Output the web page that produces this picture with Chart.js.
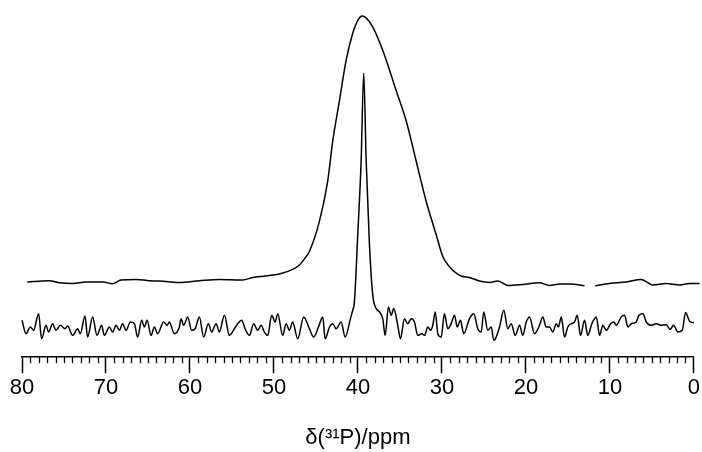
<!DOCTYPE html>
<html>
<head>
    <meta charset="utf-8">
    <title>31P NMR</title>
    <script src="https://cdn.jsdelivr.net/npm/chart.js"></script>
    <style>
        html, body { margin: 0; padding: 0; background: #fff; }
        #wrap { width: 702px; height: 452px; }
    </style>
</head>
<body>
    <div id="wrap"><canvas id="nmr"></canvas></div>

    <script>
        // upper trace (broad line), chemical shift in ppm and intensity in a.u.
        const topPpm = [79.37, 76.75, 75.56, 73.97, 72.38, 70.40, 69.21, 68.21, 66.42, 64.84, 62.85, 61.26,
            58.88, 56.50, 53.72, 52.53, 50.94, 49.35, 47.77, 46.97, 46.17, 45.78, 44.59, 43.60, 43.0, 42.2,
            41.41, 40.62, 40.0, 39.5, 39.0, 38.24, 37.05, 35.45, 34.26, 33.07, 31.88, 30.69, 29.9, 29.10,
            27.71, 26.72, 25.53, 24.34, 23.35, 22.16, 20.37, 18.38, 17.19, 16.0, 14.81, 13.02, 12.4,
            11.75, 10.05, 8.05, 6.27, 4.88, 3.29, 1.70, 0.51, -0.68];
        const topInt = [74.7, 76, 74, 73.3, 74.7, 74.7, 73, 76.7, 77.3, 76, 75.3, 74.3,
            76, 77.3, 76.7, 79.3, 80.7, 82.7, 87.3, 91.7, 100, 105, 135, 175, 215, 255,
            295, 322, 335, 339, 337, 328.3, 305, 265, 235, 195, 155, 122, 100, 90,
            80.7, 79.3, 75.7, 74.3, 75.7, 71.3, 72.3, 74, 71.3, 72.7, 72.7, 71, null,
            71, 73.3, 74.7, 77.3, 71.7, 73.3, 71.7, 73.3, 73.3];

        // lower trace (narrow line with noise)
        const lowPpm = [80.0, 79.52, 79.01, 78.62, 78.02, 77.67, 77.14, 76.83, 76.36, 75.95, 75.44, 74.88,
            74.57, 73.97, 73.38, 73.06, 72.5, 72.19, 71.59, 71.07, 70.52, 70.2, 69.6, 69.21, 68.8, 68.41,
            68.02, 67.61, 67.1, 66.62, 66.23, 65.75, 65.43, 65.11, 64.63, 64.24, 63.85, 63.13, 62.73, 62.45,
            61.86, 61.26, 61.06, 60.75, 60.27, 59.8, 59.39, 58.88, 58.37, 57.81, 57.41, 56.89, 56.5, 55.9,
            55.31, 54.71, 54.32, 53.84, 53.44, 52.92, 52.41, 51.94, 51.53, 51.14, 50.74, 50.27, 49.86, 49.55,
            48.96, 48.55, 48.16, 47.77, 47.17, 46.46, 45.78, 45.27, 44.7, 44.19, 43.91, 43.39, 43.0, 42.6,
            42.0, 41.52, 40.89, 40.62, 40.42, 40.02, 39.62, 39.31, 39.02, 38.63, 38.24, 37.83, 37.44, 37.05,
            36.76, 36.37, 36.04, 35.73, 35.26, 34.94, 34.46, 34.07, 33.66, 33.27, 32.88, 32.4, 32.08, 31.68,
            31.36, 31.09, 30.8, 30.49, 30.09, 29.7, 29.3, 28.9, 28.5, 28.18, 27.79, 27.4, 26.72, 26.21,
            25.73, 25.32, 25.02, 24.54, 24.13, 23.82, 23.54, 23.14, 22.63, 22.16, 21.75, 21.27, 20.76, 20.37,
            19.96, 19.57, 18.97, 18.38, 17.99, 17.58, 17.19, 16.79, 16.39, 16.12, 15.79, 15.4, 15.01, 14.6,
            14.21, 13.89, 13.5, 13.02, 12.63, 12.15, 11.62, 11.23, 10.84, 10.43, 9.92, 9.53, 9.24, 8.65,
            8.25, 7.86, 7.46, 6.86, 6.55, 6.07, 5.67, 5.07, 4.48, 3.88, 3.29, 2.81, 2.42, 1.9,
            1.38, 0.99, 0.51, 0.0];
        const lowInt = [36.7, 23.3, 30, 26.7, 43.3, 18.3, 31.7, 25, 33.3, 26.7, 31.7, 28.3,
            31, 21.7, 28.3, 23.3, 41, 20, 40, 21.7, 31.7, 21.7, 30, 25, 31.7, 26.7,
            33.3, 26.7, 35, 33.3, 20, 36.7, 30, 36.7, 21.7, 30, 23.3, 35, 31.7, 35,
            23.3, 30, 38.3, 31.7, 40, 26.7, 28.3, 40, 20, 33.3, 25, 33.3, 25, 41.7,
            21.7, 28.3, 33.3, 36.7, 28.3, 21.7, 33.3, 26.7, 31.7, 25, 21.7, 41.7, 35, 43.3,
            21.7, 33.3, 26.7, 35, 18.3, 40, 28.3, 20, 30, 40, 18.3, 30, 33.3, 28.3,
            35, 20, 38.3, 46.7, 55, 122, 195, 282.3, 195, 112, 62, 48.3, 45, 38.3,
            21.7, 50, 41.7, 48.3, 31.7, 18.3, 38.3, 33.3, 38.3, 35, 21.7, 23.3, 21.7, 30,
            26.7, 31.7, 45, 23.3, 20, 43.3, 28.3, 33.3, 41.7, 30, 36.7, 23.3, 38.3, 43.3,
            28.3, 25, 45, 26.7, 30, 16.7, 20, 30, 46.7, 28.3, 33.3, 21.7, 31.7, 21.7,
            35, 40, 23.3, 31.7, 40, 30, 30, 25, 33.3, 30, 40, 20, 30, 33.3,
            35, 41.7, 21.7, 36.7, 21.7, 33.3, 40, 21.7, 31.7, 26.7, 33.3, 35, 31.7, 40,
            41.7, 30, 33.3, 35, 41.7, 43.3, 35, 31.7, 33.3, 31.7, 32.3, 27.7, 31.7, 25,
            26.7, 44.3, 35.7, 34.3];

        const ppmMin = 0;
        const ppmMax = 80;
        const majorStep = 10;
        const minorStep = 1;
        const axisTitle = "δ(³¹P)/ppm";

        const FONT = "Arial, 'Liberation Sans', sans-serif";

        function toPoints(xs, ys) {
            return xs.map((x, i) => ({ x: x, y: ys[i] }));
        }

        // short minor ticks between the labelled ones
        const minorTicks = {
            id: "minorTicks",
            afterDraw(chart) {
                const sx = chart.scales.x;
                const ctx = chart.ctx;
                const y0 = chart.chartArea.bottom;
                ctx.save();
                ctx.strokeStyle = "#000";
                ctx.lineWidth = 1.3;
                ctx.beginPath();
                for (let v = ppmMin; v <= ppmMax; v += minorStep) {
                    if (v % majorStep === 0) continue;
                    const px = Math.round(sx.getPixelForValue(v)) + 0.5;
                    ctx.moveTo(px, y0);
                    ctx.lineTo(px, y0 + 6);
                }
                ctx.stroke();
                ctx.restore();
            }
        };

        new Chart(document.getElementById("nmr"), {
            type: "line",
            data: {
                datasets: [
                    {
                        data: toPoints(topPpm, topInt),
                        borderColor: "#000",
                        borderWidth: 1.5,
                        pointRadius: 0,
                        cubicInterpolationMode: "monotone",
                        spanGaps: false,
                        clip: false
                    },
                    {
                        data: toPoints(lowPpm, lowInt),
                        borderColor: "#000",
                        borderWidth: 1.5,
                        pointRadius: 0,
                        cubicInterpolationMode: "monotone",
                        clip: false
                    }
                ]
            },
            options: {
                responsive: true,
                maintainAspectRatio: false,
                animation: false,
                layout: { padding: { left: 22, right: 7, top: 5, bottom: 1 } },
                plugins: { legend: { display: false }, tooltip: { enabled: false } },
                scales: {
                    x: {
                        type: "linear",
                        reverse: true,
                        min: ppmMin,
                        max: ppmMax,
                        border: { display: true, color: "#000", width: 1.5 },
                        grid: {
                            drawOnChartArea: false,
                            drawTicks: true,
                            tickLength: 16,
                            tickColor: "#000",
                            tickWidth: 1.5
                        },
                        ticks: {
                            stepSize: majorStep,
                            color: "#000",
                            padding: 2,
                            maxRotation: 0,
                            font: { family: FONT, size: 22 }
                        },
                        title: {
                            display: true,
                            text: axisTitle,
                            color: "#000",
                            padding: { top: 21, bottom: 0 },
                            font: { family: FONT, size: 22 }
                        }
                    },
                    y: {
                        display: false,
                        min: 0,
                        max: 350
                    }
                }
            },
            plugins: [minorTicks]
        });
    </script>
</body>
</html>
